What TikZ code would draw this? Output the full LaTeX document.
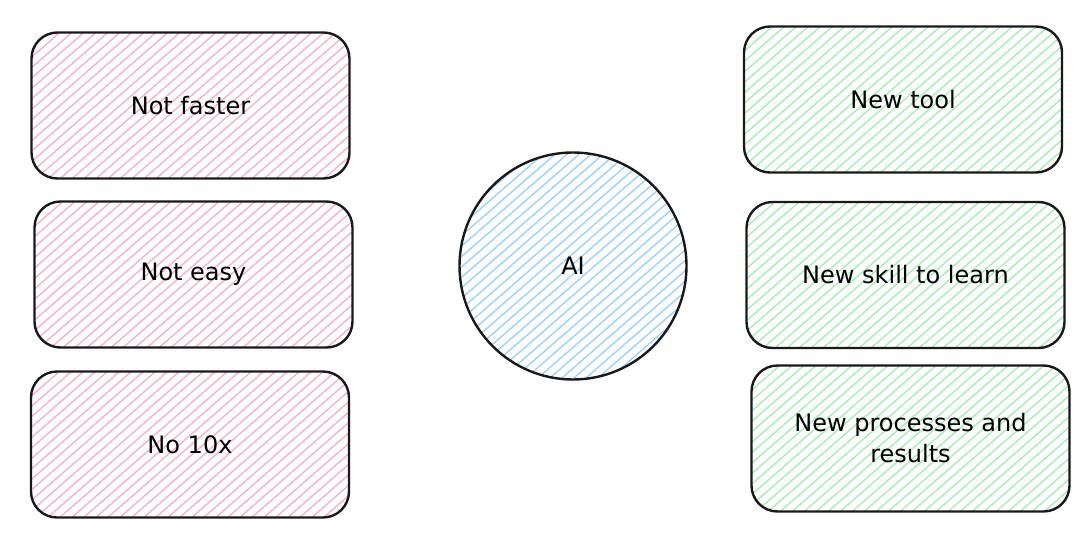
\documentclass[tikz,border=0pt]{standalone}
\usepackage{fontspec}
\setmainfont{DejaVu Sans}
\definecolor{hpink}{HTML}{F5B3C8}
\definecolor{hblue}{HTML}{9DD2FB}
\definecolor{hgreen}{HTML}{A8EEB3}
\tikzset{
  hatch/.style={path picture={
    \foreach \k in {-22,...,34}{
      \draw[line width=1.4pt,#1] ([xshift=\k*12pt,yshift=-4pt]path picture bounding box.south west) -- ++(330pt,287pt);
    }}},
  card/.style={draw=black!90, line width=2.4pt, rounded corners=26pt,
    minimum width=318pt, minimum height=146pt, align=center, font=\fontsize{24}{31}\selectfont, inner sep=0pt},
  pinkcard/.style={card, hatch=hpink},
  greencard/.style={card, hatch=hgreen},
  ball/.style={circle, draw=black!90, line width=2.4pt, minimum size=227pt, inner sep=0pt,
    hatch=hblue, font=\fontsize{24}{31}\selectfont}
}
\begin{document}
\begin{tikzpicture}[x=1pt,y=-1pt]
\useasboundingbox (0,0) rectangle (1092,538);
\node[pinkcard] (l1) at (190.5,105.5) {Not faster};
\node[pinkcard] (l2) at (193.5,274.5) {Not easy};
\node[pinkcard] (l3) at (190,444.5) {No 10x};
\node[ball] (ai) at (573,266) {AI};
\node[greencard] (r1) at (903,99.5) {New tool};
\node[greencard] (r2) at (905.5,275) {New skill to learn};
\node[greencard] (r3) at (910.5,438.5) {New processes and\\results};
\end{tikzpicture}
\end{document}
